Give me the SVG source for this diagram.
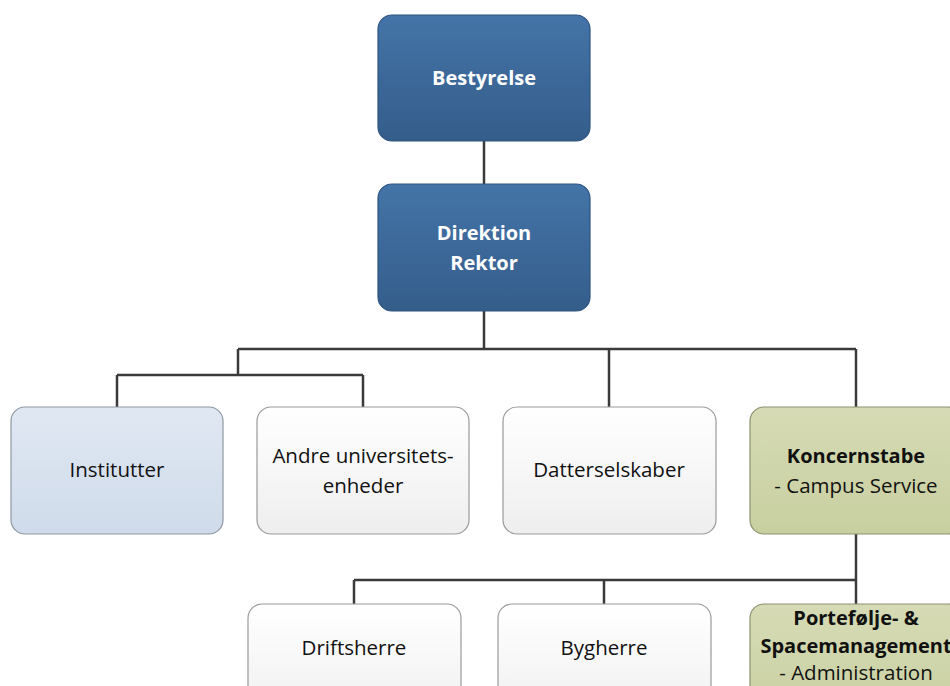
<svg xmlns="http://www.w3.org/2000/svg" width="950" height="686" viewBox="0 0 950 686">
  <defs>
    <linearGradient id="gBlue" x1="0" y1="0" x2="0" y2="1">
      <stop offset="0" stop-color="#4474a8"/>
      <stop offset="1" stop-color="#345d8a"/>
    </linearGradient>
    <linearGradient id="gLight" x1="0" y1="0" x2="0" y2="1">
      <stop offset="0" stop-color="#e0e8f3"/>
      <stop offset="1" stop-color="#cfdbea"/>
    </linearGradient>
    <linearGradient id="gWhite" x1="0" y1="0" x2="0" y2="1">
      <stop offset="0" stop-color="#ffffff"/>
      <stop offset="1" stop-color="#eeeeee"/>
    </linearGradient>
    <linearGradient id="gGreen" x1="0" y1="0" x2="0" y2="1">
      <stop offset="0" stop-color="#d6dbb5"/>
      <stop offset="1" stop-color="#c8cf9f"/>
    </linearGradient>
  </defs>
  <style>
    .box { stroke-width: 1.2; }
    .blue { fill: url(#gBlue); stroke: #2e5480; }
    .light { fill: url(#gLight); stroke: #8f98a3; }
    .white { fill: url(#gWhite); stroke: #9a9a9a; }
    .green { fill: url(#gGreen); stroke: #8d9270; }
    text { font-family: "Open Sans", "Liberation Sans", sans-serif; font-size: 20.5px; text-anchor: middle; fill: #111; }
    .head { fill: #ffffff; font-weight: bold; font-size: 20px; }
    .b { font-weight: bold; font-size: 20px; }
    .conn { fill: none; stroke: #3a3a3a; stroke-width: 2.5; }
  </style>

  <!-- connectors -->
  <g id="connectors">
    <path class="conn" d="M484 141 V184"/>
    <path class="conn" d="M484 311 V349 M238 349 H856 M238 349 V375 M117 375 H363 M117 375 V407 M363 375 V407 M609 349 V407 M856 349 V407"/>
    <path class="conn" d="M856 534 V580 M354 580 H856 M354 580 V604 M604 580 V604 M856 580 V604"/>
  </g>

  <g id="bestyrelse">
    <rect class="box blue" x="378" y="15" width="212" height="126" rx="14"/>
    <text class="head" x="484" y="85">Bestyrelse</text>
  </g>

  <g id="direktion">
    <rect class="box blue" x="378" y="184" width="212" height="127" rx="14"/>
    <text class="head" x="484" y="240">Direktion</text>
    <text class="head" x="484" y="270">Rektor</text>
  </g>

  <g id="institutter">
    <rect class="box light" x="11" y="407" width="212" height="127" rx="14"/>
    <text x="117" y="477">Institutter</text>
  </g>

  <g id="andre">
    <rect class="box white" x="257" y="407" width="212" height="127" rx="14"/>
    <text x="363" y="463">Andre universitets-</text>
    <text x="363" y="493">enheder</text>
  </g>

  <g id="datterselskaber">
    <rect class="box white" x="503" y="407" width="213" height="127" rx="14"/>
    <text x="609" y="477">Datterselskaber</text>
  </g>

  <g id="koncernstabe">
    <rect class="box green" x="750" y="407" width="212" height="127" rx="14"/>
    <text class="b" x="856" y="463">Koncernstabe</text>
    <text x="856" y="493">- Campus Service</text>
  </g>

  <g id="driftsherre">
    <rect class="box white" x="248" y="604" width="213" height="127" rx="14"/>
    <text x="354" y="655">Driftsherre</text>
  </g>

  <g id="bygherre">
    <rect class="box white" x="498" y="604" width="213" height="127" rx="14"/>
    <text x="604" y="655">Bygherre</text>
  </g>

  <g id="portefolje">
    <rect class="box green" x="750" y="604" width="212" height="127" rx="14"/>
    <text class="b" x="856" y="625">Portefølje- &amp;</text>
    <text class="b" x="856" y="653">Spacemanagement</text>
    <text x="856" y="680">- Administration</text>
  </g>
</svg>
